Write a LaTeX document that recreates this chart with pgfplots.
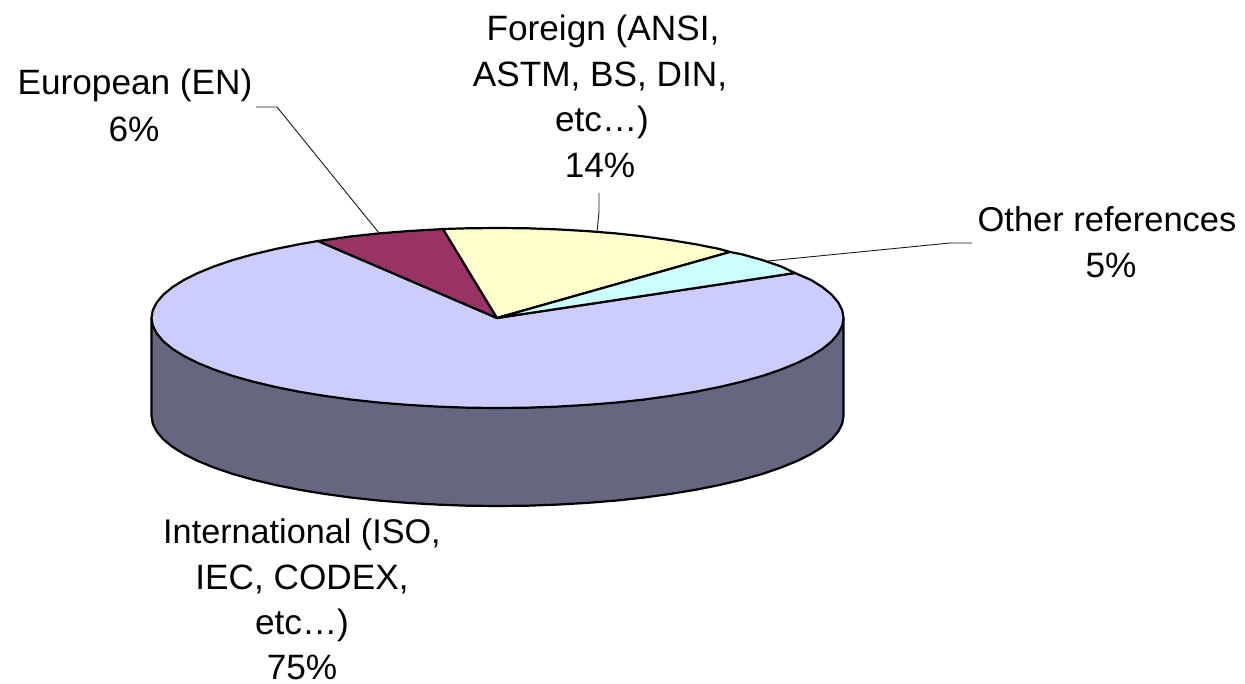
\documentclass[border=0pt]{standalone}
\usepackage{pgfplots}
\pgfplotsset{compat=1.18}
\usepackage{fontspec}
\setmainfont{Liberation Sans}
\definecolor{intc}{HTML}{CCCCFF}
\definecolor{euc}{HTML}{993366}
\definecolor{forc}{HTML}{FFFFCC}
\definecolor{othc}{HTML}{CCFFFF}
\definecolor{sidec}{HTML}{666680}
\tikzset{
  lbl/.style={anchor=base, inner sep=0pt, font=\fontsize{35.2}{40}\selectfont},
  lead/.style={draw=black!90, line width=0.9pt, line join=miter},
}
\begin{document}
\begin{tikzpicture}
\begin{axis}[
  scale only axis, width=1245pt, height=684pt,
  xmin=0, xmax=1245, ymin=0, ymax=684, y dir=reverse,
  hide axis, clip=false,
  every axis plot/.append style={no markers, draw=black, line width=2.2pt, line join=round},
]
% side wall
\addplot[fill=sidec] coordinates {
(151.5,318)(151.5,416)(152.8,423.8)(156.8,431.6)(163.3,439.3)(172.4,446.8)(183.9,454)(197.9,461)(214.1,467.6)(232.5,473.9)(252.8,479.6)(275.1,484.9)(299,489.7)(324.5,493.9)(351.3,497.6)(379.2,500.6)(407.9,502.9)(437.4,504.6)(467.3,505.7)(497.5,506)(527.7,505.7)(557.6,504.6)(587.1,502.9)(615.8,500.6)(643.7,497.6)(670.5,493.9)(696,489.7)(719.9,484.9)(742.2,479.6)(762.5,473.9)(780.9,467.6)(797.1,461)(811.1,454)(822.6,446.8)(831.7,439.3)(838.2,431.6)(842.2,423.8)(843.5,416)(843.5,318)(151.5,318)};
% International 75%
\addplot[fill=intc] coordinates {
(497,318)(795,273)(811.1,280)(822.6,287.2)(831.7,294.7)(838.2,302.4)(842.2,310.2)(843.5,318)(842.2,325.8)(838.2,333.6)(831.7,341.3)(822.6,348.8)(811.1,356)(797.1,363)(780.9,369.6)(762.5,375.9)(742.2,381.6)(719.9,386.9)(696,391.7)(670.5,395.9)(643.7,399.6)(615.8,402.6)(587.1,404.9)(557.6,406.6)(527.7,407.7)(497.5,408)(467.3,407.7)(437.4,406.6)(407.9,404.9)(379.2,402.6)(351.3,399.6)(324.5,395.9)(299,391.7)(275.1,386.9)(252.8,381.6)(232.5,375.9)(214.1,369.6)(197.9,363)(183.9,356)(172.4,348.8)(163.3,341.3)(156.8,333.6)(152.8,325.8)(151.5,318)(152.8,310.2)(156.8,302.4)(163.3,294.7)(172.4,287.2)(183.9,280)(197.9,273)(214.1,266.4)(232.5,260.1)(252.8,254.4)(275.1,249.1)(299,244.3)(318,241)(497,318)};
% European 6%
\addplot[fill=euc] coordinates {
(497,318)(318,241)(324.5,240.1)(351.3,236.4)(379.2,233.4)(407.9,231.1)(437.4,229.4)(443,229)(497,318)};
% Foreign 14%
\addplot[fill=forc] coordinates {
(497,318)(443,229)(467.3,228.3)(497.5,228)(527.7,228.3)(557.6,229.4)(587.1,231.1)(615.8,233.4)(643.7,236.4)(670.5,240.1)(696,244.3)(719.9,249.1)(730,252)(497,318)};
% Other references 5%
\addplot[fill=othc] coordinates {
(497,318)(730,252)(742.2,254.4)(762.5,260.1)(780.9,266.4)(795,273)(497,318)};
% leader lines
\addplot[lead] coordinates {(256,107)(277,107)(379,233)};
\addplot[lead] coordinates {(599,193)(599,212)(597,232)};
\addplot[lead] coordinates {(972,243)(950,243)(768,261)};
% labels
\node[lbl] at (axis cs:603,41) {Foreign (ANSI,};
\node[lbl] at (axis cs:600,87) {ASTM, BS, DIN,};
\node[lbl] at (axis cs:602,132) {etc…)};
\node[lbl] at (axis cs:600,178) {14\%};
\node[lbl] at (axis cs:135,95) {European (EN)};
\node[lbl] at (axis cs:134,142) {6\%};
\node[lbl, font=\fontsize{34.5}{40}\selectfont] at (axis cs:1107,232) {Other references};
\node[lbl] at (axis cs:1111,278) {5\%};
\node[lbl, font=\fontsize{34.2}{40}\selectfont] at (axis cs:302,543) {International (ISO,};
\node[lbl] at (axis cs:302,589) {IEC, CODEX,};
\node[lbl] at (axis cs:302,634) {etc…)};
\node[lbl] at (axis cs:302,679) {75\%};
\end{axis}
\pgfresetboundingbox
\path[use as bounding box] (current axis.south west) rectangle (current axis.north east);
\end{tikzpicture}
\end{document}
